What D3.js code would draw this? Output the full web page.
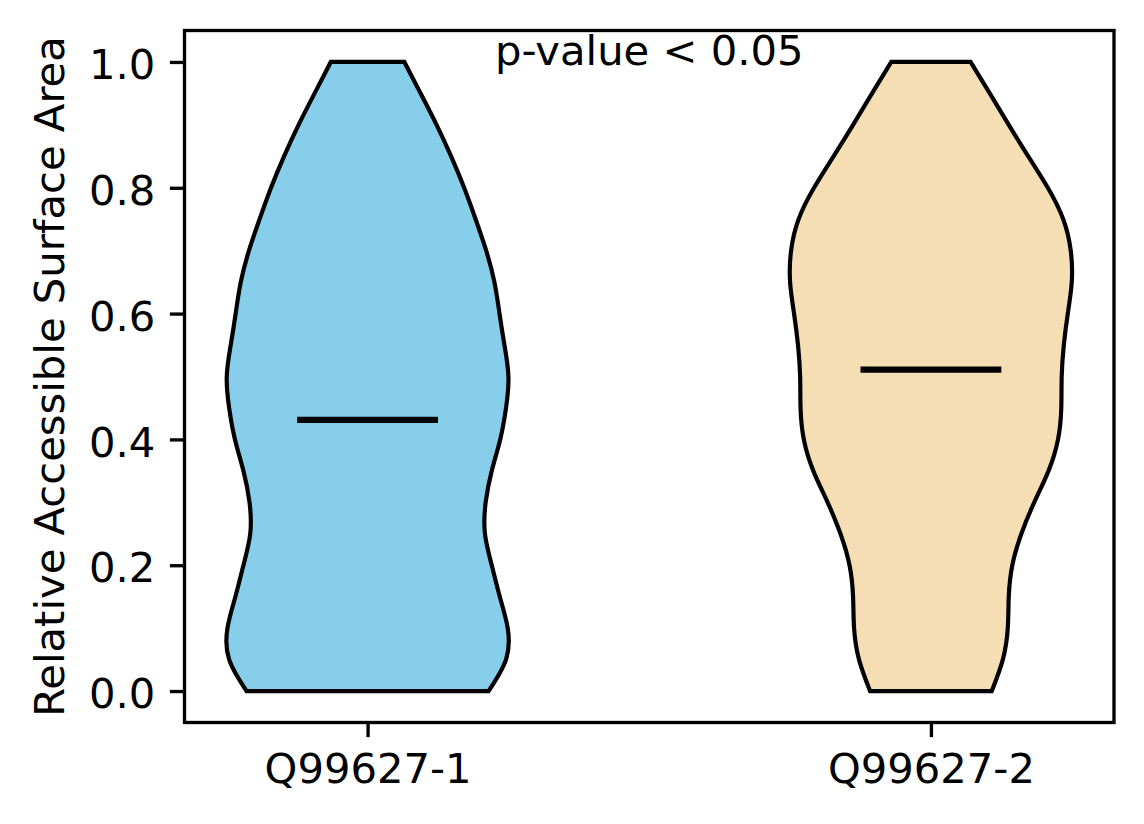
<!DOCTYPE html>
<html>
<head>
    <meta charset="utf-8">
    <title>violin</title>
    <style>
        body { margin: 0; background: #fff; }
        text { font-family: "DejaVu Sans", sans-serif; }
    </style>
</head>
<body>
<main></main>

<script src="https://cdn.jsdelivr.net/npm/d3@7"></script>
<script>
    // data
    var categories = ["Q99627-1", "Q99627-2"];
    var positions = [1, 2];
    var colors = ["#87ceeb", "#f5deb3"];
    var medians = [0.431, 0.511];
    // grid of RSA values where the density was read
    var gridValues = [0.00, 0.05, 0.10, 0.15, 0.20, 0.25, 0.30, 0.35, 0.40, 0.45, 0.50,
                      0.55, 0.60, 0.65, 0.70, 0.75, 0.80, 0.85, 0.90, 0.95, 1.00];
    // relative kernel density of each group at gridValues
    var density1 = [0.856, 0.979, 0.991, 0.935, 0.878, 0.830, 0.835, 0.878, 0.938, 0.979, 0.996,
                    0.968, 0.933, 0.897, 0.839, 0.764, 0.683, 0.591, 0.488, 0.375, 0.260];
    var density2 = [0.430, 0.508, 0.543, 0.550, 0.575, 0.639, 0.730, 0.831, 0.898, 0.921, 0.924,
                    0.939, 0.967, 0.995, 0.988, 0.935, 0.826, 0.688, 0.550, 0.416, 0.280];
    var densities = [density1, density2];
    var yTicks = [0.0, 0.2, 0.4, 0.6, 0.8, 1.0];
    var yLabel = "Relative Accessible Surface Area";
    var note = "p-value < 0.05";

    var width = 1144;
    var height = 824;
    var fs = 41.7;          // 10pt at 300 dpi
    var lw = 3.33;          // 0.8pt
    // axes box (window.top is reserved, so use other names)
    var axL = 184.5, axR = 1114, axT = 30.5, axB = 722.5;

    var svg = d3.select("main")
        .append("svg")
        .attr("width", width)
        .attr("height", height);

    var x = d3.scaleLinear().domain([0.675, 2.325]).range([axL, axR]);
    var y = d3.scaleLinear().domain([-0.05, 1.05]).range([axB, axT]);

    // violins
    var g = svg.append("g");
    densities.forEach(function (dens, k) {
        var pos = positions[k];
        var w = d3.scaleLinear().domain([0, d3.max(dens)]).range([0, 0.25]);
        var pts = gridValues.map(function (v, i) { return { v: v, d: dens[i] }; });
        var area = d3.area()
            .curve(d3.curveNatural)
            .y(function (d) { return y(d.v); })
            .x0(function (d) { return x(pos - w(d.d)); })
            .x1(function (d) { return x(pos + w(d.d)); });
        g.append("path")
            .datum(pts)
            .attr("d", area)
            .attr("fill", colors[k])
            .attr("stroke", "#000")
            .attr("stroke-width", 4.17)
            .attr("stroke-linejoin", "miter");
    });

    // medians
    g.selectAll("line.median")
        .data(medians)
        .enter()
        .append("line")
        .attr("class", "median")
        .attr("x1", function (d, i) { return x(positions[i] - 0.125); })
        .attr("x2", function (d, i) { return x(positions[i] + 0.125); })
        .attr("y1", function (d) { return y(d); })
        .attr("y2", function (d) { return y(d); })
        .attr("stroke", "#000")
        .attr("stroke-width", 6.25);

    // frame
    svg.append("rect")
        .attr("x", axL)
        .attr("y", axT)
        .attr("width", axR - axL)
        .attr("height", axB - axT)
        .attr("fill", "none")
        .attr("stroke", "#000")
        .attr("stroke-width", lw);

    // y axis
    var yAxis = d3.axisLeft(y)
        .tickValues(yTicks)
        .tickFormat(d3.format(".1f"))
        .tickSize(14.6)
        .tickPadding(14.6);
    var ya = svg.append("g")
        .attr("transform", "translate(" + axL + ",0)")
        .call(yAxis);
    ya.select(".domain").remove();
    ya.selectAll(".tick line").attr("stroke-width", lw);
    ya.selectAll(".tick text")
        .attr("font-size", fs)
        .attr("dy", "0.4em")
        .attr("fill", "#000");

    // x axis
    var xAxis = d3.axisBottom(x)
        .tickValues(positions)
        .tickFormat(function (d, i) { return categories[i]; })
        .tickSize(14.6)
        .tickPadding(14.6);
    var xa = svg.append("g")
        .attr("transform", "translate(0," + axB + ")")
        .call(xAxis);
    xa.select(".domain").remove();
    xa.selectAll(".tick line").attr("stroke-width", lw);
    xa.selectAll(".tick text")
        .attr("font-size", fs)
        .attr("dy", "0.76em")
        .attr("fill", "#000");

    // y label
    svg.append("text")
        .attr("transform", "translate(63.5," + ((axT + axB) / 2) + ") rotate(-90)")
        .attr("text-anchor", "middle")
        .attr("font-size", fs)
        .text(yLabel);

    // p-value note
    svg.append("text")
        .attr("x", (axL + axR) / 2)
        .attr("y", 64.5)
        .attr("text-anchor", "middle")
        .attr("font-size", fs)
        .text(note);
</script>
</body>
</html>
